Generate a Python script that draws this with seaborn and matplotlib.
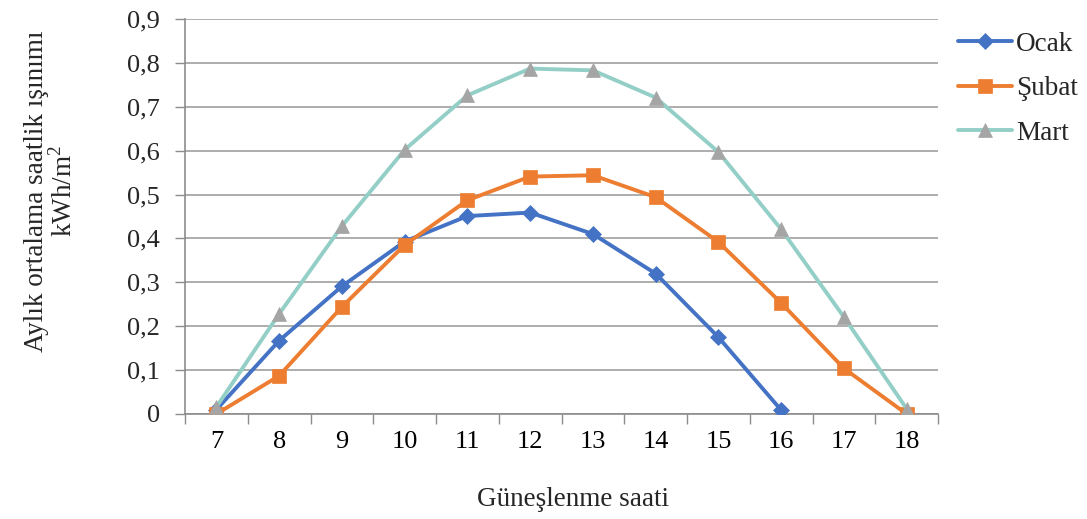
import matplotlib
matplotlib.use("Agg")
import matplotlib.pyplot as plt
import seaborn as sns
import pandas as pd
import numpy as np
from matplotlib.ticker import FixedLocator, FuncFormatter

hours_ocak = [7, 8, 9, 10, 11, 12, 13, 14, 15, 16]
ocak = [0.01, 0.167, 0.291, 0.393, 0.451, 0.459, 0.41, 0.32, 0.175, 0.009]
hours = [7, 8, 9, 10, 11, 12, 13, 14, 15, 16, 17, 18]
subat = [0.0, 0.087, 0.244, 0.385, 0.487, 0.541, 0.544, 0.494, 0.392, 0.253, 0.104, 0.0]
mart = [0.016, 0.228, 0.428, 0.602, 0.726, 0.787, 0.783, 0.721, 0.597, 0.421, 0.221, 0.012]

series_names = ["Ocak", "Şubat", "Mart"]
line_colors = ["#4472C4", "#ED7D31", "#93CFC6"]
marker_colors = ["#4472C4", "#ED7D31", "#A5A5A5"]
markers = ["D", "s", "^"]
msizes = [8, 10, 10]

sns.set_theme(style="white")
plt.rcParams["font.family"] = ["Liberation Serif", "DejaVu Serif"]
plt.rcParams["mathtext.fontset"] = "custom"
plt.rcParams["mathtext.rm"] = "Liberation Serif"

FS = 19
LFS = 19.5

fig = plt.figure(figsize=(10.87, 5.19), dpi=100)
ax = fig.add_axes([185/1087, 1 - 414/519, (938-185)/1087, (414-19)/519])

data = [(hours_ocak, ocak), (hours, subat), (hours, mart)]
for (xs, ys), name, lc, mc, mk, ms in zip(data, series_names, line_colors, marker_colors, markers, msizes):
    df = pd.DataFrame({"saat": xs, "val": ys})
    sns.lineplot(data=df, x="saat", y="val", ax=ax, color=lc, linewidth=2.8,
                 marker=mk, markersize=ms, markerfacecolor=mc, markeredgecolor=mc,
                 markeredgewidth=0.5, label=name, zorder=3)

ax.set_xlim(6.5, 18.5)
ax.set_ylim(0, 0.9)
ax.set_yticks(np.arange(0, 0.91, 0.1))
ax.yaxis.set_major_formatter(FuncFormatter(lambda v, p: "0" if abs(v) < 1e-9 else f"{v:.1f}".replace(".", ",")))
ax.set_xticks(hours)
ax.set_xticklabels([str(h) for h in hours])
ax.xaxis.set_minor_locator(FixedLocator(np.arange(6.5, 18.6, 1.0)))
ax.tick_params(axis="x", which="major", length=0, labelsize=FS, pad=12, colors="black")
ax.tick_params(axis="x", which="minor", length=7, width=1, color="#8C8C8C", bottom=True)
ax.tick_params(axis="y", which="major", length=7, width=1, color="#8C8C8C", left=True, labelsize=FS, pad=11)

ax.grid(axis="y", color="#A0A0A0", linewidth=1.2, zorder=0)
ax.grid(axis="x", visible=False)
for s in ["top", "right"]:
    ax.spines[s].set_visible(False)
ax.spines["left"].set_color("#8C8C8C")
ax.spines["bottom"].set_color("#8C8C8C")
ax.spines["left"].set_linewidth(1.2)
ax.spines["bottom"].set_linewidth(1.2)

ax.set_xlabel("Güneşlenme saati", fontsize=LFS)
ax.xaxis.set_label_coords(0.515, -0.185)
ax.set_ylabel("Aylık ortalama saatlik ışınımı\nkWh/m$^2$", fontsize=LFS, linespacing=1.0)
ax.yaxis.set_label_coords(-0.143, 0.565)

leg = ax.legend(loc="upper left", bbox_to_anchor=(1.012, 0.995), frameon=False, fontsize=LFS,
                handlelength=2.0, labelspacing=0.72, handletextpad=0.15, borderaxespad=0)

fig.savefig("out.png", dpi=100)
